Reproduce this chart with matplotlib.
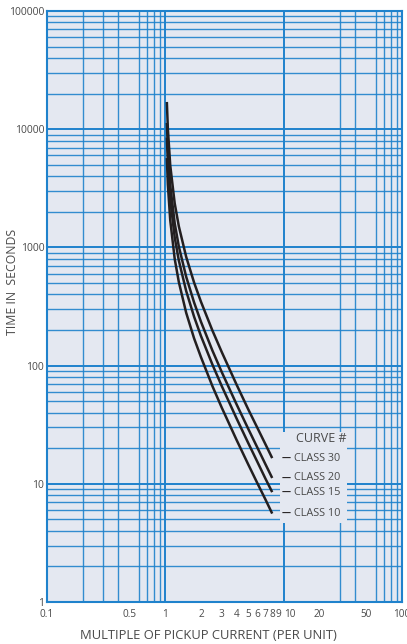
import matplotlib
matplotlib.use("Agg")
import matplotlib.pyplot as plt
import numpy as np
from matplotlib.ticker import FixedLocator, FixedFormatter, LogLocator, NullFormatter
from matplotlib.patches import Rectangle
import matplotlib.transforms as mtransforms

# multiples of pickup current where the curves were read
current = [1.03, 1.05, 1.1, 1.2, 1.3, 1.5, 1.75, 2, 2.5, 3, 4, 5, 6, 7, 8]

# trip time in seconds
class_10 = [5700, 3400, 1700, 800, 510, 280, 170, 118, 67, 44, 23.5, 14.7, 10.1, 7.4, 5.6]
class_15 = [8500, 5200, 2550, 1215, 775, 428, 259, 178, 102, 67, 35.7, 22.3, 15.3, 11.1, 8.5]
class_20 = [11300, 6900, 3360, 1600, 1020, 565, 342, 235, 134, 88, 47, 29.4, 20.2, 14.7, 11.2]
class_30 = [17000, 10150, 4950, 2360, 1510, 832, 504, 347, 198, 130, 69, 43, 29.7, 21.7, 16.5]

curve_names = ["CLASS 30", "CLASS 20", "CLASS 15", "CLASS 10"]
curve_data = [class_30, class_20, class_15, class_10]

x_ticks = [0.1, 0.5, 1, 2, 3, 4, 5, 6, 7, 8, 9, 10, 20, 50, 100]
x_tick_labels = ["0.1", "0.5", "1", "2", "3", "4", "5", "6", "7", "8", "9", "10", "20", "50", "100"]
y_ticks = [1, 10, 100, 1000, 10000, 100000]
y_tick_labels = ["1", "10", "100", "1000", "10000", "100000"]

BG = "#e4e8f1"
GRID = "#1f82cc"
INK = "#231f20"
TXT = "#4a4a4a"

plt.rcParams["font.family"] = ["Open Sans", "DejaVu Sans"]

fig = plt.figure(figsize=(4.07, 6.44), dpi=100)
ax = fig.add_axes([47 / 407, 42 / 644, 355 / 407, 591 / 644])
ax.set_facecolor(BG)
ax.set_xscale("log")
ax.set_yscale("log")
ax.set_xlim(0.1, 100)
ax.set_ylim(1, 100000)

# grid: every 1..9 per decade, decades a bit heavier
ax.xaxis.set_minor_locator(LogLocator(base=10, subs=np.arange(1, 10)))
ax.yaxis.set_minor_locator(LogLocator(base=10, subs=np.arange(1, 10)))
ax.xaxis.set_minor_formatter(NullFormatter())
ax.yaxis.set_minor_formatter(NullFormatter())
ax.grid(which="minor", color=GRID, linewidth=1.0, alpha=0.9)
ax.grid(which="major", visible=False)
for d in [0.1, 1, 10, 100]:
    ax.axvline(d, color=GRID, linewidth=1.4, zorder=0.6)
for d in y_ticks:
    ax.axhline(d, color=GRID, linewidth=1.4, zorder=0.6)
ax.set_axisbelow(True)

ax.xaxis.set_major_locator(FixedLocator(x_ticks))
ax.xaxis.set_major_formatter(FixedFormatter(x_tick_labels))
ax.yaxis.set_major_locator(FixedLocator(y_ticks))
ax.yaxis.set_major_formatter(FixedFormatter(y_tick_labels))
ax.tick_params(which="both", length=0, labelcolor=TXT)
ax.tick_params(axis="x", pad=5, labelsize=7.2)
ax.tick_params(axis="y", pad=2, labelsize=7.5)
# "10" sits just right of its line in the original
for lab in ax.get_xticklabels():
    if lab.get_text() == "10":
        lab.set_horizontalalignment("left")

for sp in ax.spines.values():
    sp.set_color(GRID)
    sp.set_linewidth(1.5)

for vals in curve_data:
    ax.plot(current, vals, color=INK, linewidth=1.8, solid_capstyle="butt", zorder=3)

# legend block (covers the grid)
ax.add_patch(Rectangle((0.656, 0.134), 0.189, 0.154, transform=ax.transAxes,
                       facecolor=BG, edgecolor="none", zorder=2))
ax.text(0.772, 0.276, "CURVE #", transform=ax.transAxes, ha="center", va="center",
        fontsize=9, color=TXT, zorder=4)
trans = mtransforms.blended_transform_factory(ax.transAxes, ax.transData)
for name, vals in zip(curve_names, curve_data):
    ax.text(0.674, vals[-1], "\u2014", transform=trans, ha="center", va="center",
            fontsize=6.5, color=INK, fontweight="bold", zorder=4)
    ax.text(0.697, vals[-1], name, transform=trans, ha="left", va="center",
            fontsize=7.8, color=TXT, zorder=4)

ax.set_xlabel("MULTIPLE OF PICKUP CURRENT (PER UNIT)", fontsize=9.4, color=TXT)
ax.xaxis.set_label_coords(0.456, -0.045)
ax.set_ylabel("TIME IN  SECONDS", fontsize=8.8, color=TXT)
ax.yaxis.set_label_coords(-0.078, 0.541)

fig.savefig("out.png", dpi=100, facecolor="white")
